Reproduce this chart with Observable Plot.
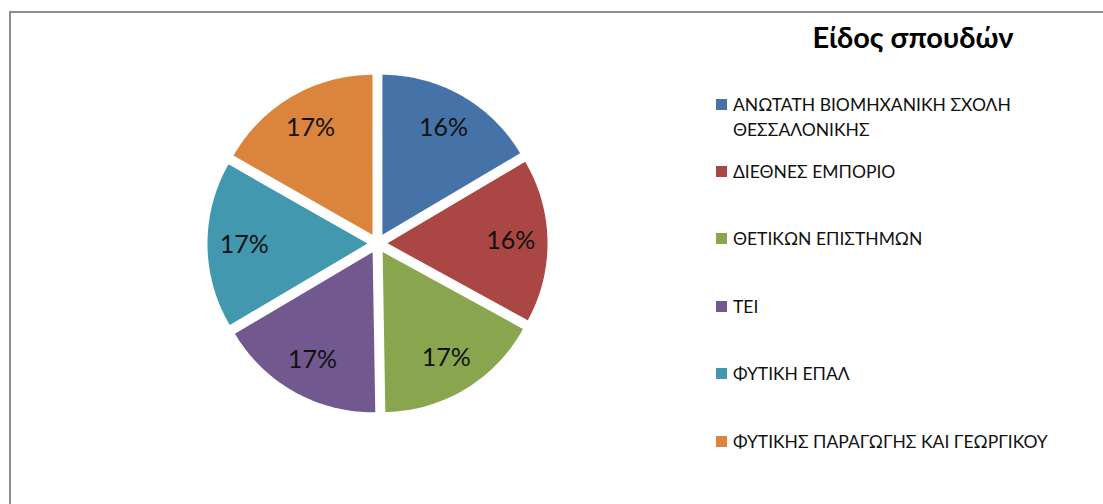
<!DOCTYPE html>
<html>
<head>
<meta charset="utf-8">
<script src="https://cdn.jsdelivr.net/npm/d3@7"></script>
<script src="https://cdn.jsdelivr.net/npm/@observablehq/plot@0.6"></script>
<style>
  html, body { margin: 0; padding: 0; background: #fff; }
  #wrap { position: relative; width: 1103px; height: 504px; overflow: hidden; font-family: Lato, "Open Sans", sans-serif; }
  #frame { position: absolute; left: 9px; top: 11px; width: 1200px; height: 600px; border-top: 2px solid #8e8e8e; border-left: 2px solid #8e8e8e; box-sizing: border-box; }
  #chart { position: absolute; left: 0; top: 0; }
  #title { position: absolute; left: 713px; width: 400px; top: 19px; text-align: center; font-weight: bold; font-size: 29px; line-height: 35px; color: #000; }
  .item { position: absolute; left: 716px; color: #111; font-size: 17.5px; line-height: 25px; }
  .sw { position: absolute; left: 0; top: 7px; width: 11px; height: 11px; }
  .lab { position: absolute; left: 17px; top: 0; width: 350px; white-space: normal; }
</style>
</head>
<body>
<div id="wrap">
  <div id="frame"></div>
  <div id="chart"></div>
  <div id="title"></div>
  <div id="legend"></div>
</div>
<script>
const title = "Είδος σπουδών";
const categories = [
  "ΑΝΩΤΑΤΗ ΒΙΟΜΗΧΑΝΙΚΗ ΣΧΟΛΗ ΘΕΣΣΑΛΟΝΙΚΗΣ",
  "ΔΙΕΘΝΕΣ ΕΜΠΟΡΙΟ",
  "ΘΕΤΙΚΩΝ ΕΠΙΣΤΗΜΩΝ",
  "ΤΕΙ",
  "ΦΥΤΙΚΗ ΕΠΑΛ",
  "ΦΥΤΙΚΗΣ ΠΑΡΑΓΩΓΗΣ ΚΑΙ ΓΕΩΡΓΙΚΟΥ"
];
const values = [16.49, 16.49, 16.755, 16.755, 16.755, 16.755];
const colors = ["#4572A7", "#AA4643", "#89A54E", "#71588F", "#4198AF", "#DB843D"];

const explode = 0.0625;   // slice offset, in radius units
const labelR = 0.77;      // label radius, in radius units

const total = d3.sum(values);
const arcs = d3.pie().sort(null).value(d => d)(values);

const slices = arcs.map((a, i) => {
  const mid = (a.startAngle + a.endAngle) / 2;
  return {
    key: categories[i],
    start: a.startAngle, end: a.endAngle, mid,
    ox: explode * Math.sin(mid), oy: explode * Math.cos(mid),
    label: Math.round(values[i] / total * 100) + "%"
  };
});

const points = [];
for (const s of slices) {
  points.push({key: s.key, x: s.ox, y: s.oy});
  const n = 80;
  for (let k = 0; k <= n; k++) {
    const t = s.start + (s.end - s.start) * k / n;
    points.push({key: s.key, x: s.ox + Math.sin(t), y: s.oy + Math.cos(t)});
  }
  points.push({key: s.key, x: s.ox, y: s.oy});
}

const labels = slices.map(s => ({
  x: s.ox + labelR * Math.sin(s.mid),
  y: s.oy + labelR * Math.cos(s.mid),
  text: s.label
}));

const plot = Plot.plot({
  width: 1103, height: 504,
  marginLeft: 201, marginRight: 550, marginTop: 67, marginBottom: 85,
  x: {domain: [-1.1, 1.1], axis: null},
  y: {domain: [-1.1, 1.1], axis: null},
  color: {domain: categories, range: colors},
  style: {background: "transparent", overflow: "visible"},
  marks: [
    Plot.line(points, {x: "x", y: "y", z: "key", fill: "key", stroke: null, curve: "linear"}),
    Plot.text(labels, {x: "x", y: "y", text: "text", fontSize: 25, fill: "#111", fontFamily: "Lato, 'Open Sans', sans-serif"})
  ]
});
document.getElementById("chart").appendChild(plot);

document.getElementById("title").textContent = title;
const legend = document.getElementById("legend");
categories.forEach((c, i) => {
  const item = document.createElement("div");
  item.className = "item";
  item.style.top = (104 + 67.4 * i - 12.5) + "px";
  const sw = document.createElement("div");
  sw.className = "sw";
  sw.style.background = colors[i];
  const lab = document.createElement("div");
  lab.className = "lab";
  lab.textContent = c;
  item.appendChild(sw);
  item.appendChild(lab);
  legend.appendChild(item);
});
</script>
</body>
</html>
